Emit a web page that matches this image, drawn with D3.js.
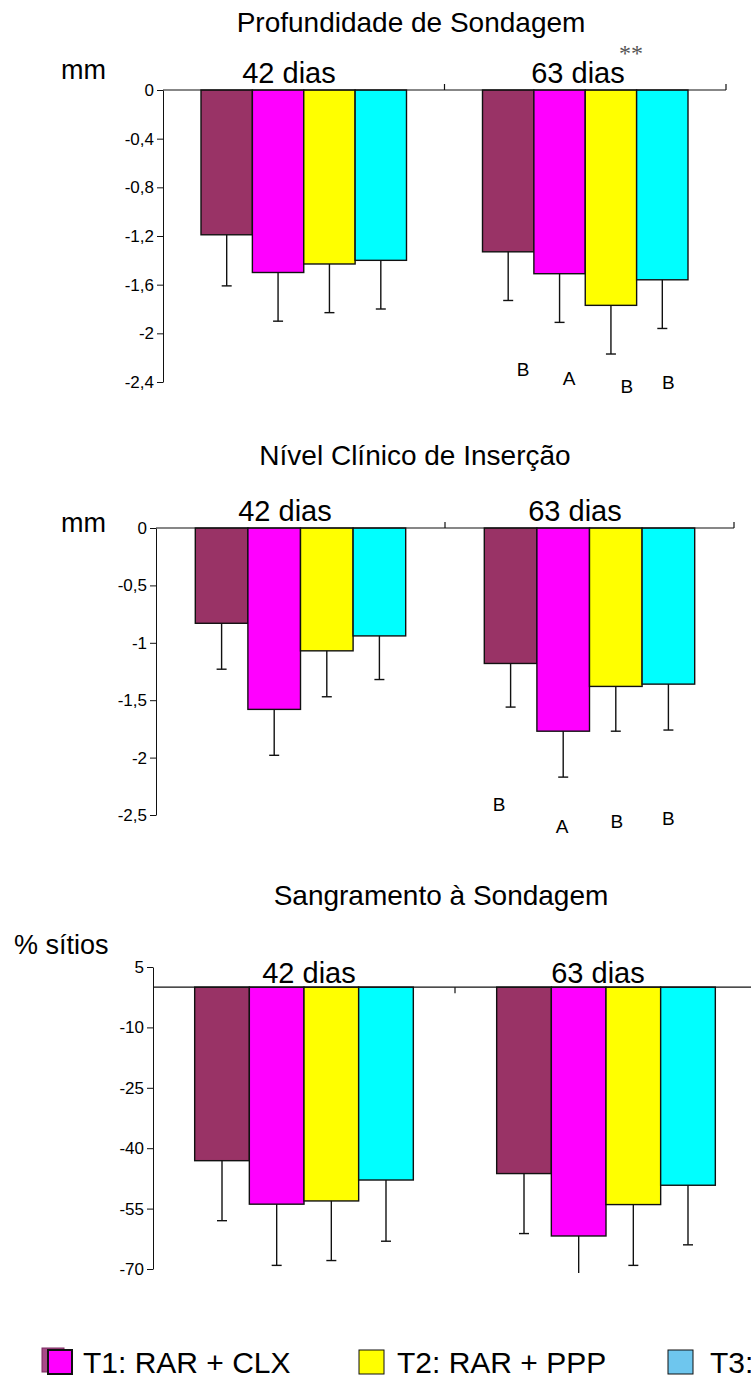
<!DOCTYPE html>
<html>
<head>
<meta charset="utf-8">
<script src="https://cdn.jsdelivr.net/npm/d3@7"></script>
<style>
  body { margin: 0; background: #fff; }
  text { font-family: "Liberation Sans", Arial, sans-serif; fill: #000; }
</style>
</head>
<body>
<svg id="chart" width="751" height="1378"></svg>
<script>
// ---- data ----
const groups = ["42 dias", "63 dias"];
const treatments = ["C", "T1", "T2", "T3"];
const barColors = ["#993366", "#FF00FF", "#FFFF00", "#00FFFF"];

// Profundidade de Sondagem (mm)
const pdMean = [[-1.19, -1.50, -1.43, -1.40], [-1.33, -1.51, -1.77, -1.56]];
const pdSd   = [[0.42, 0.40, 0.40, 0.40], [0.40, 0.40, 0.40, 0.40]];
const pdTicks = [0, -0.4, -0.8, -1.2, -1.6, -2, -2.4];
const pdLetters = ["B", "A", "B", "B"];

// Nível Clínico de Inserção (mm)
const nicMean = [[-0.83, -1.58, -1.07, -0.94], [-1.18, -1.77, -1.38, -1.36]];
const nicSd   = [[0.40, 0.40, 0.40, 0.38], [0.38, 0.40, 0.39, 0.40]];
const nicTicks = [0, -0.5, -1, -1.5, -2, -2.5];
const nicLetters = ["B", "A", "B", "B"];

// Sangramento à Sondagem (% sítios)
const ssMean = [[-43.1, -53.9, -53.1, -47.9], [-46.3, -61.8, -54.0, -49.2]];
const ssSd   = [[14.9, 15.2, 14.8, 15.2], [14.9, 15.0, 15.1, 14.8]];
const ssTicks = [5, -10, -25, -40, -55, -70];

const legendLabels = ["T1: RAR + CLX", "T2: RAR + PPP", "T3: RAR + placebo"];
const legendColors = ["#FF00FF", "#FFFF00", "#6EC6EE"];

// ---- drawing ----
const svg = d3.select("#chart");
const fmt = v => String(v).replace(".", ",");

function panel(cfg) {
  const g = svg.append("g");
  const y = d3.scaleLinear().domain(cfg.domain).range([cfg.yTop, cfg.yBottom]);
  const x0 = d3.scaleBand().domain(groups).range([cfg.xLeft, cfg.xRight])
    .paddingInner(cfg.pad).paddingOuter(cfg.pad / 2);
  const x1 = d3.scaleBand().domain(treatments).range([0, x0.bandwidth()]);
  const step = x0.step();

  // title, unit, group labels
  g.append("text").attr("x", cfg.titleX).attr("y", cfg.titleY)
    .attr("text-anchor", "middle").attr("dominant-baseline", "central")
    .style("font-size", "28px").text(cfg.title);
  g.append("text").attr("x", cfg.unitX).attr("y", cfg.unitY)
    .attr("dominant-baseline", "central")
    .style("font-size", "27px").text(cfg.unit);
  g.selectAll(".grp").data(groups).join("text")
    .attr("x", (d, i) => cfg.groupX[i]).attr("y", cfg.groupY)
    .attr("text-anchor", "middle").attr("dominant-baseline", "central")
    .style("font-size", "29px").text(d => d);

  // clip for error bars running past the axis end
  const clipId = "clip" + cfg.id;
  svg.append("clipPath").attr("id", clipId).append("rect")
    .attr("x", 0).attr("y", 0).attr("width", 751).attr("height", cfg.yBottom + 4);

  // bars
  const rows = [];
  groups.forEach((grp, gi) => treatments.forEach((t, ti) => {
    rows.push({ grp, t, ti, v: cfg.mean[gi][ti], sd: cfg.sd[gi][ti] });
  }));
  g.append("g").selectAll("rect").data(rows).join("rect")
    .attr("x", d => x0(d.grp) + x1(d.t))
    .attr("y", d => y(Math.max(0, d.v)))
    .attr("width", x1.bandwidth())
    .attr("height", d => Math.abs(y(d.v) - y(0)))
    .attr("fill", d => barColors[d.ti])
    .attr("stroke", "#111").attr("stroke-width", 1.4);

  // error bars (downward, with cap)
  const errG = g.append("g").attr("clip-path", `url(#${clipId})`)
    .attr("stroke", "#111").attr("stroke-width", 1.4);
  rows.forEach(d => {
    const cx = x0(d.grp) + x1(d.t) + x1.bandwidth() / 2;
    const yEnd = y(d.v - d.sd);
    errG.append("line").attr("x1", cx).attr("x2", cx)
      .attr("y1", y(d.v)).attr("y2", yEnd);
    if (d.v - d.sd >= cfg.domain[1]) {
      errG.append("line").attr("x1", cx - 5).attr("x2", cx + 5)
        .attr("y1", yEnd).attr("y2", yEnd);
    }
  });

  // y axis
  const yAxis = d3.axisLeft(y).tickValues(cfg.ticks).tickFormat(fmt)
    .tickSize(6).tickSizeOuter(0);
  const ax = g.append("g").attr("transform", `translate(${cfg.xLeft},0)`).call(yAxis);
  ax.select(".domain").attr("stroke", "#111");
  ax.selectAll(".tick line").attr("stroke", "#111");
  ax.selectAll(".tick text").style("font-size", "17px")
    .style("font-family", '"Liberation Sans", Arial, sans-serif').attr("x", -9).attr("fill", "#000");

  // category axis on the zero line
  const y0 = y(0);
  g.append("line").attr("x1", cfg.xLeft).attr("x2", cfg.xRight)
    .attr("y1", y0).attr("y2", y0).attr("stroke", "#111").attr("stroke-width", 1.2);
  const sepX = [cfg.xLeft + step, cfg.xLeft + 2 * step];
  g.selectAll(".sep").data(sepX).join("line")
    .attr("x1", d => d).attr("x2", d => d)
    .attr("y1", y0).attr("y2", y0 + cfg.sepDir * 6)
    .attr("stroke", "#111").attr("stroke-width", 1.2);

  // significance letters under the 63 dias bars
  if (cfg.letters) {
    g.selectAll(".let").data(cfg.letters).join("text")
      .attr("x", (d, i) => x0(groups[1]) + x1(treatments[i]) + x1.bandwidth() / 2 + cfg.letterDx[i])
      .attr("y", (d, i) => y(cfg.letterY[i]))
      .attr("text-anchor", "middle").attr("dominant-baseline", "central")
      .style("font-size", "19px").text(d => d);
  }
  return { g, x0, x1, y };
}

const p1 = panel({
  id: 1, title: "Profundidade de Sondagem", titleX: 411, titleY: 22,
  unit: "mm", unitX: 61, unitY: 70, groupX: [289, 578], groupY: 73,
  domain: [0, -2.4], yTop: 90, yBottom: 382, xLeft: 163, xRight: 726, pad: 0.27,
  ticks: pdTicks, mean: pdMean, sd: pdSd, sepDir: -1,
  letters: pdLetters, letterDx: [15, 9.5, 16, 6], letterY: [-2.30, -2.375, -2.433, -2.408]
});
p1.g.append("text").attr("x", 631).attr("y", 61)
  .attr("text-anchor", "middle")
  .style("font-family", '"Liberation Serif", "Times New Roman", serif')
  .style("font-size", "24px").style("fill", "#555").text("**");

panel({
  id: 2, title: "Nível Clínico de Inserção", titleX: 415, titleY: 455,
  unit: "mm", unitX: 61, unitY: 523, groupX: [285, 575], groupY: 511,
  domain: [0, -2.5], yTop: 528, yBottom: 815, xLeft: 156, xRight: 734, pad: 0.272,
  ticks: nicTicks, mean: nicMean, sd: nicSd, sepDir: -1,
  letters: nicLetters, letterDx: [-11.6, -1, 1, 0], letterY: [-2.41, -2.60, -2.56, -2.53]
});

panel({
  id: 3, title: "Sangramento à Sondagem", titleX: 441, titleY: 895,
  unit: "% sítios", unitX: 14, unitY: 945, groupX: [309, 598], groupY: 973,
  domain: [5, -70], yTop: 967, yBottom: 1269, xLeft: 153, xRight: 757, pad: 0.276,
  ticks: ssTicks, mean: ssMean, sd: ssSd, sepDir: 1
});

// legend
const leg = svg.append("g");
const legX = [48, 359, 668];
const legTextX = [83, 397, 710];
const legY = 1362;
leg.append("rect").attr("x", 42).attr("y", legY - 14).attr("width", 22).attr("height", 24)
  .attr("fill", "#A84A88").attr("stroke", "#7a2a60").attr("stroke-width", 1);
legendLabels.forEach((lab, i) => {
  leg.append("rect").attr("x", legX[i]).attr("y", legY - 12).attr("width", i === 0 ? 24 : 25).attr("height", 24)
    .attr("fill", legendColors[i]).attr("stroke", "#111").attr("stroke-width", i === 0 ? 2 : 1);
  leg.append("text").attr("x", legTextX[i]).attr("y", legY)
    .attr("dominant-baseline", "central").style("font-size", "30px").text(lab);
});
</script>
</body>
</html>
